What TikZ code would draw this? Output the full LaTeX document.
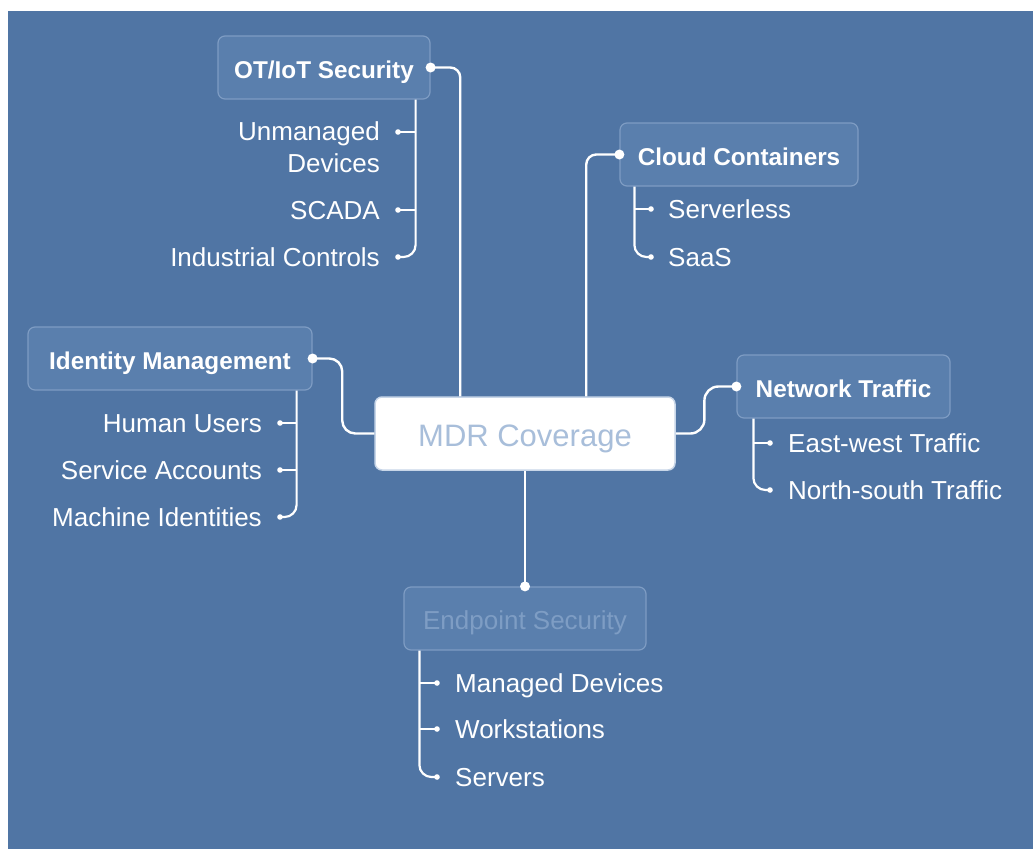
\documentclass[tikz,border=0pt]{standalone}
\usepackage{fontspec}
\setmainfont{Liberation Sans}
\usetikzlibrary{calc}
\definecolor{bgblue}{HTML}{5075A4}
\definecolor{hdrfill}{HTML}{5A7FAD}
\definecolor{hdrline}{HTML}{7E9CC3}
\definecolor{mdrtext}{HTML}{A8BEDA}
\definecolor{mdrline}{HTML}{C8D6E8}
\definecolor{eptext}{HTML}{7E9DC4}
\tikzset{
  hdr/.style={draw=hdrline, line width=1.2pt, fill=hdrfill, rounded corners=7pt,
    text=white, font=\bfseries\fontsize{24.3}{28}\selectfont,
    text height=22pt, text depth=0pt, inner sep=0pt, minimum height=63pt},
  eps/.style={hdr, text=eptext, font=\fontsize{26}{30}\selectfont},
  mdrbox/.style={draw=mdrline, line width=1.5pt, fill=white, rounded corners=7pt,
    text=mdrtext, font=\fontsize{31}{36}\selectfont,
    text height=25pt, text depth=0pt, inner sep=0pt, minimum width=300pt, minimum height=73pt},
  child/.style={text=white, font=\fontsize{26}{32}\selectfont, text height=19pt, text depth=0pt, inner sep=0pt},
  conn/.style={draw=white, line width=2.4pt},
  sub/.style={draw=white, line width=2.2pt},
  bigdot/.style={fill=white},
}
\begin{document}
\begin{tikzpicture}[x=1pt,y=-1pt]
\useasboundingbox (0,0) rectangle (1033,849);
\fill[white] (0,0) rectangle (1033,849);
\fill[bgblue] (8,11) rectangle (1033,849);

% main nodes
\node[mdrbox] (mdr) at (525,433.5) {MDR Coverage};
\node[hdr, minimum width=212pt] (ot) at (324,67.5) {OT/IoT Security};
\node[hdr, minimum width=238pt] (cc) at (739,154.5) {Cloud Containers};
\node[hdr, minimum width=284pt] (im) at (170,358.5) {Identity Management};
\node[hdr, minimum width=213pt] (nt) at (843.5,386.5) {Network Traffic};
\node[eps, minimum width=242pt] (ep) at (525,618.5) {Endpoint Security};

% main connectors
\draw[conn, rounded corners=10pt] (ot.east) -| ([xshift=86pt]mdr.north west);
\draw[conn, rounded corners=10pt] (cc.west) -| ([xshift=212pt]mdr.north west);
\draw[conn, rounded corners=13pt] (im.east) -| ($(mdr.west)+(-32,0)$) -- (mdr.west);
\draw[conn, rounded corners=14pt] (mdr.east) -| ($(nt.west)+(-32,0)$) -- (nt.west);
\draw[conn] (mdr.south) -- (ep.north);
\foreach \p in {ot.east, cc.west, im.east, nt.west, ep.north}
  \fill[bigdot] (\p) circle (5pt);

% OT/IoT children
\coordinate (ot1) at (398,132);
\coordinate (ot2) at (398,210);
\coordinate (ot3) at (398,257);
\node[text=white, font=\fontsize{26}{32}\selectfont, align=right, inner sep=0pt, anchor=north east] (otc1) at (380,121) {Unmanaged\\Devices};
\node[child, anchor=east] (otc2) at (380,210) {SCADA};
\node[child, anchor=east] (otc3) at (380,257) {Industrial Controls};
\draw[sub, rounded corners=12pt] ([xshift=-15pt]ot.south east) |- (ot3);
\draw[sub] (ot1 -| ot.south east) ++(-15,0) -- (ot1);
\draw[sub] (ot2 -| ot.south east) ++(-15,0) -- (ot2);

% Cloud children
\coordinate (cc1) at (651,209);
\coordinate (cc2) at (651,257);
\node[child, anchor=west] (ccc1) at (668,209) {Serverless};
\node[child, anchor=west] (ccc2) at (668,257) {SaaS};
\draw[sub, rounded corners=12pt] ([xshift=15pt]cc.south west) |- (cc2);
\draw[sub] (cc1 -| cc.south west) ++(15,0) -- (cc1);

% Identity children
\coordinate (im1) at (280,423);
\coordinate (im2) at (280,470);
\coordinate (im3) at (280,517);
\node[child, anchor=east] (imc1) at (262,423) {Human Users};
\node[child, anchor=east] (imc2) at (262,470) {Service Accounts};
\node[child, anchor=east] (imc3) at (262,517) {Machine Identities};
\draw[sub, rounded corners=12pt] ([xshift=-16pt]im.south east) |- (im3);
\draw[sub] (im1 -| im.south east) ++(-16,0) -- (im1);
\draw[sub] (im2 -| im.south east) ++(-16,0) -- (im2);

% Network children
\coordinate (nt1) at (770,443);
\coordinate (nt2) at (770,490);
\node[child, anchor=west] (ntc1) at (788,443) {East-west Traffic};
\node[child, anchor=west] (ntc2) at (788,490) {North-south Traffic};
\draw[sub, rounded corners=12pt] ([xshift=17pt]nt.south west) |- (nt2);
\draw[sub] (nt1 -| nt.south west) ++(17,0) -- (nt1);

% Endpoint children
\coordinate (ep1) at (437,683);
\coordinate (ep2) at (437,729);
\coordinate (ep3) at (437,777);
\node[child, anchor=west] (epc1) at (455,683) {Managed Devices};
\node[child, anchor=west] (epc2) at (455,729) {Workstations};
\node[child, anchor=west] (epc3) at (455,777) {Servers};
\draw[sub, rounded corners=12pt] ([xshift=16pt]ep.south west) |- (ep3);
\draw[sub] (ep1 -| ep.south west) ++(16,0) -- (ep1);
\draw[sub] (ep2 -| ep.south west) ++(16,0) -- (ep2);

\foreach \p in {ot1,ot2,ot3,cc1,cc2,im1,im2,im3,nt1,nt2,ep1,ep2,ep3}
  \fill[white] (\p) circle (2.8pt);
\end{tikzpicture}
\end{document}
